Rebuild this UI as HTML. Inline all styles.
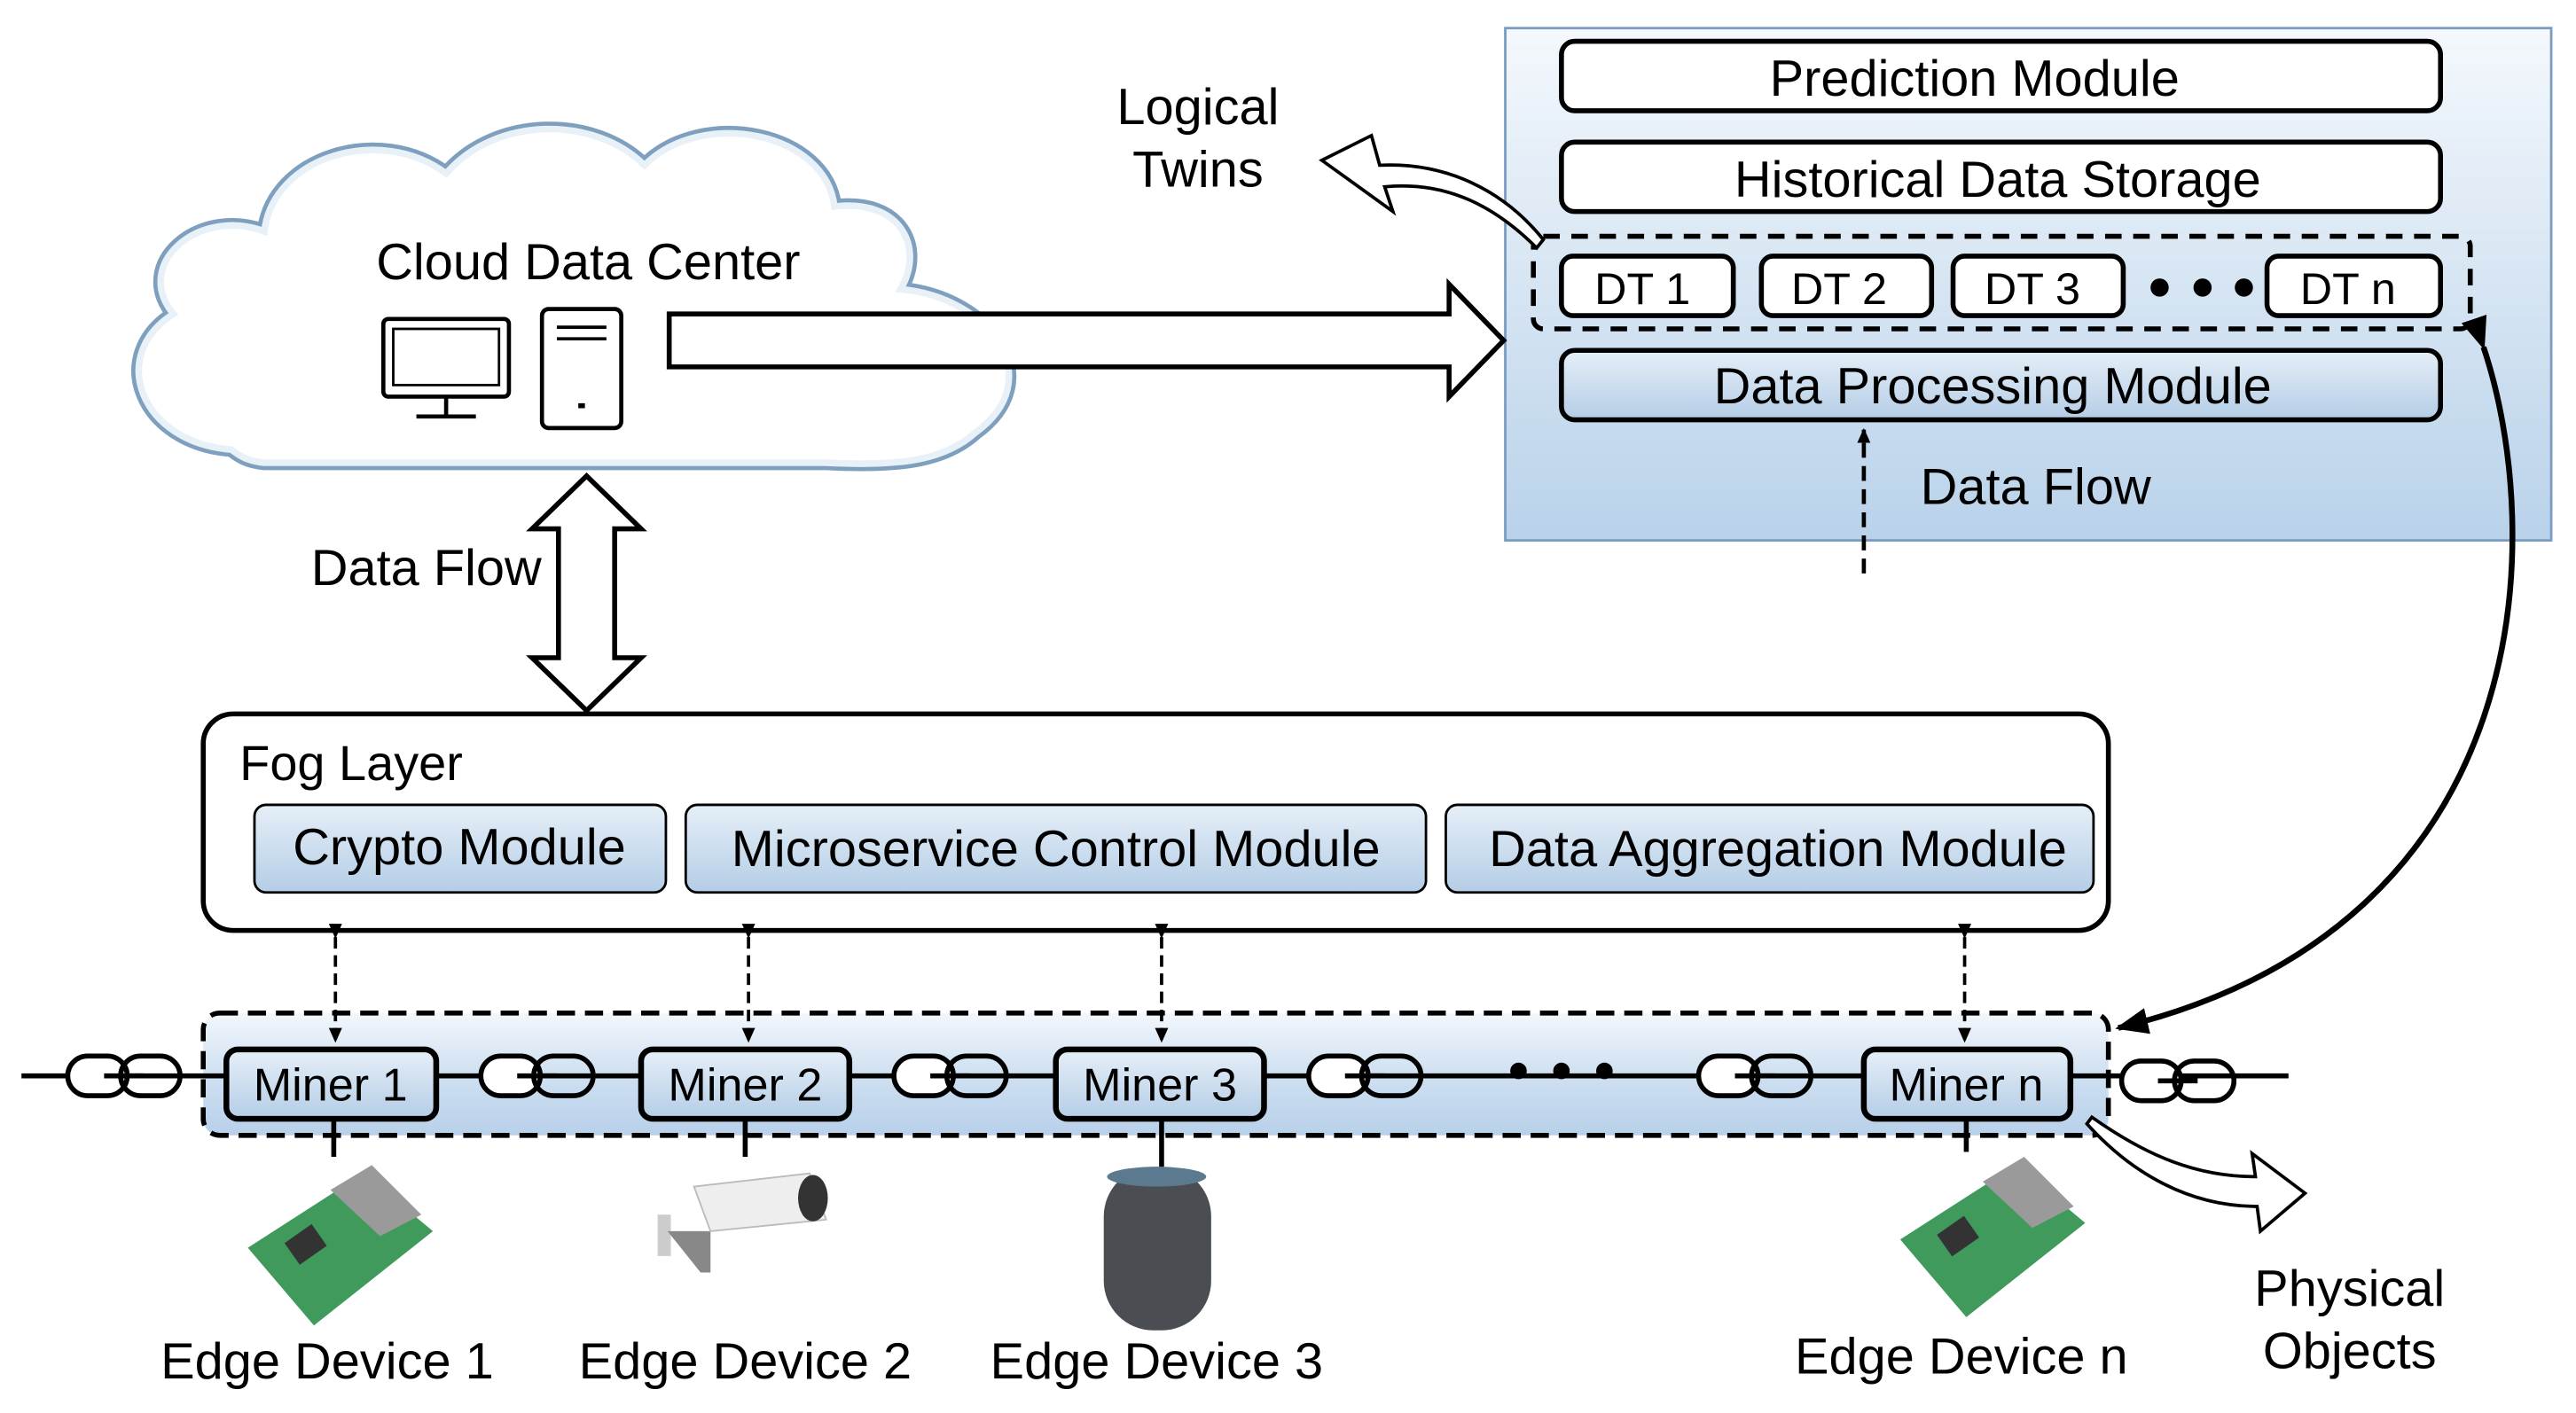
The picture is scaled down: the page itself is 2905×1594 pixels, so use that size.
<!DOCTYPE html>
<html><head><meta charset="utf-8"><style>html,body{margin:0;padding:0;background:#fff}svg{display:block}text{font-family:"Liberation Sans",Arial,sans-serif;fill:#000}</style></head>
<body>
<svg width="2905" height="1594" viewBox="0 0 1559 855" preserveAspectRatio="none" xmlns="http://www.w3.org/2000/svg">
<defs>
<linearGradient id="gp" x1="0" y1="0" x2="0" y2="1"><stop offset="0" stop-color="#f4f8fc"/><stop offset="1" stop-color="#b9d2ea"/></linearGradient>
<linearGradient id="gb" x1="0" y1="0" x2="0" y2="1"><stop offset="0" stop-color="#e6eff8"/><stop offset="1" stop-color="#b4cde6"/></linearGradient>
<linearGradient id="gc" x1="0" y1="0" x2="0" y2="1"><stop offset="0" stop-color="#f2f7fc"/><stop offset="0.5" stop-color="#cfe0f1"/><stop offset="1" stop-color="#b8d0ea"/></linearGradient>
<marker id="ah" markerWidth="10" markerHeight="10" refX="8" refY="5" orient="auto" markerUnits="userSpaceOnUse"><path d="M0,1 L9,5 L0,9 z" fill="#000"/></marker>
<marker id="ahb" markerWidth="22" markerHeight="22" refX="18" refY="11" orient="auto" markerUnits="userSpaceOnUse"><path d="M0,3 L20,11 L0,19 z" fill="#000"/></marker>
</defs>

<!-- Twin panel -->
<rect x="911" y="17" width="633" height="310" fill="url(#gp)" stroke="#7a9cc0" stroke-width="1.5"/>
<rect x="945" y="25" width="532" height="42" rx="8" fill="#fff" stroke="#000" stroke-width="3"/>
<text x="1195" y="58" font-size="31" text-anchor="middle">Prediction Module</text>
<rect x="945" y="86" width="532" height="42" rx="8" fill="#fff" stroke="#000" stroke-width="3"/>
<text x="1209" y="119" font-size="31" text-anchor="middle">Historical Data Storage</text>
<rect x="928" y="143" width="567" height="56" rx="6" fill="none" stroke="#000" stroke-width="3" stroke-dasharray="10,7"/>
<g stroke="#000" stroke-width="3" fill="#fff">
<rect x="945" y="155" width="104" height="36" rx="7"/>
<rect x="1066" y="155" width="103" height="36" rx="7"/>
<rect x="1182" y="155" width="103" height="36" rx="7"/>
<rect x="1372" y="155" width="105" height="36" rx="7"/>
</g>
<g font-size="27" text-anchor="middle">
<text x="994" y="184">DT 1</text><text x="1113" y="184">DT 2</text><text x="1230" y="184">DT 3</text><text x="1421" y="184">DT n</text>
</g>
<circle cx="1307" cy="174" r="5.5"/><circle cx="1333" cy="174" r="5.5"/><circle cx="1358" cy="174" r="5.5"/>
<rect x="945" y="212" width="532" height="42" rx="8" fill="url(#gb)" stroke="#000" stroke-width="3"/>
<text x="1206" y="244" font-size="31" text-anchor="middle">Data Processing Module</text>
<line x1="1128" y1="347" x2="1128" y2="260" stroke="#000" stroke-width="2.5" stroke-dasharray="9,5" marker-end="url(#ah)"/>
<text x="1232" y="305" font-size="31" text-anchor="middle">Data Flow</text>

<!-- Cloud -->
<path d="M140,272 C85,268 65,215 105,190 C80,160 120,125 160,140 C165,95 230,75 270,105 C300,70 360,70 390,100 C425,65 500,80 505,125 C545,120 560,150 545,175 C600,180 635,230 590,262 C570,280 540,282 500,280 L160,280 C150,279 145,276 140,272 Z" fill="#fff" stroke="#7f9fbf" stroke-width="9"/>
<path d="M140,272 C85,268 65,215 105,190 C80,160 120,125 160,140 C165,95 230,75 270,105 C300,70 360,70 390,100 C425,65 500,80 505,125 C545,120 560,150 545,175 C600,180 635,230 590,262 C570,280 540,282 500,280 L160,280 C150,279 145,276 140,272 Z" fill="#fff" stroke="#e8f0f8" stroke-width="4"/>
<text x="356" y="169" font-size="31" text-anchor="middle">Cloud Data Center</text>
<rect x="232" y="193" width="76" height="47" rx="3" fill="#fff" stroke="#000" stroke-width="2.5"/>
<rect x="238" y="199" width="64" height="34" fill="#fff" stroke="#000" stroke-width="1.5"/>
<line x1="270" y1="240" x2="270" y2="251" stroke="#000" stroke-width="2.5"/>
<line x1="252" y1="252" x2="288" y2="252" stroke="#000" stroke-width="2.5"/>
<rect x="328" y="187" width="48" height="72" rx="4" fill="#fff" stroke="#000" stroke-width="2.5"/>
<line x1="337" y1="198" x2="367" y2="198" stroke="#000" stroke-width="2"/>
<line x1="337" y1="205" x2="367" y2="205" stroke="#000" stroke-width="2"/>
<rect x="350" y="244" width="4" height="3" fill="#000"/>

<!-- big right arrow -->
<path d="M405,190 L877,190 L877,172 L910,206 L877,240 L877,222 L405,222 Z" fill="#fff" stroke="#000" stroke-width="3"/>

<!-- Logical twins -->
<text x="725" y="75" font-size="31" text-anchor="middle">Logical</text>
<text x="725" y="113" font-size="31" text-anchor="middle">Twins</text>
<path d="M930,150 C900,120 870,110 838,113 L843,128 L800,97 L830,82 L835,100 C875,98 910,115 934,145 Z" fill="#fff" stroke="#000" stroke-width="2"/>

<!-- vertical double arrow -->
<path d="M355,288 L388,320 L372,320 L372,398 L388,398 L355,430 L322,398 L338,398 L338,320 L322,320 Z" fill="#fff" stroke="#000" stroke-width="3"/>
<text x="258" y="354" font-size="31" text-anchor="middle">Data Flow</text>

<!-- Fog layer -->
<rect x="123" y="432" width="1153" height="131" rx="18" fill="#fff" stroke="#000" stroke-width="3"/>
<text x="145" y="472" font-size="30">Fog Layer</text>
<g stroke="#000" stroke-width="1.5" fill="url(#gb)">
<rect x="154" y="487" width="249" height="53" rx="7"/>
<rect x="415" y="487" width="448" height="53" rx="7"/>
<rect x="875" y="487" width="392" height="53" rx="7"/>
</g>
<text x="278" y="523" font-size="31" text-anchor="middle">Crypto Module</text>
<text x="639" y="524" font-size="31" text-anchor="middle">Microservice  Control Module</text>
<text x="1076" y="524" font-size="31" text-anchor="middle">Data Aggregation Module</text>

<!-- chain band -->
<rect x="123" y="613" width="1153" height="74" rx="10" fill="url(#gc)" stroke="#000" stroke-width="3" stroke-dasharray="11,6"/>
<g stroke="#000" stroke-width="2" stroke-dasharray="7,4">
<line x1="203" y1="567" x2="203" y2="630" marker-start="url(#ah)" marker-end="url(#ah)"/>
<line x1="453" y1="567" x2="453" y2="630" marker-start="url(#ah)" marker-end="url(#ah)"/>
<line x1="703" y1="567" x2="703" y2="630" marker-start="url(#ah)" marker-end="url(#ah)"/>
<line x1="1189" y1="567" x2="1189" y2="630" marker-start="url(#ah)" marker-end="url(#ah)"/>
</g>
<line x1="13" y1="651" x2="1385" y2="651" stroke="#000" stroke-width="3"/>
<g fill="none" stroke="#000" stroke-width="3">
<g transform="translate(75,651)"><rect x="-34" y="-12" width="36" height="24" rx="12" fill="#fff"/><rect x="-2" y="-12" width="36" height="24" rx="12"/><line x1="-12" y1="0" x2="12" y2="0"/></g>
<g transform="translate(325,651)"><rect x="-34" y="-12" width="36" height="24" rx="12" fill="#fff"/><rect x="-2" y="-12" width="36" height="24" rx="12"/><line x1="-12" y1="0" x2="12" y2="0"/></g>
<g transform="translate(575,651)"><rect x="-34" y="-12" width="36" height="24" rx="12" fill="#fff"/><rect x="-2" y="-12" width="36" height="24" rx="12"/><line x1="-12" y1="0" x2="12" y2="0"/></g>
<g transform="translate(826,651)"><rect x="-34" y="-12" width="36" height="24" rx="12" fill="#fff"/><rect x="-2" y="-12" width="36" height="24" rx="12"/><line x1="-12" y1="0" x2="12" y2="0"/></g>
<g transform="translate(1062,651)"><rect x="-34" y="-12" width="36" height="24" rx="12" fill="#fff"/><rect x="-2" y="-12" width="36" height="24" rx="12"/><line x1="-12" y1="0" x2="12" y2="0"/></g>
<g transform="translate(1318,654)"><rect x="-34" y="-12" width="36" height="24" rx="12" fill="#fff"/><rect x="-2" y="-12" width="36" height="24" rx="12"/><line x1="-12" y1="0" x2="12" y2="0"/></g>
</g>
<circle cx="919" cy="648" r="5"/><circle cx="945" cy="648" r="5"/><circle cx="971" cy="648" r="5"/>
<g stroke="#000" stroke-width="3">
<line x1="202" y1="677" x2="202" y2="700"/><line x1="451" y1="677" x2="451" y2="700"/><line x1="703" y1="677" x2="703" y2="706"/><line x1="1190" y1="677" x2="1190" y2="697"/>
</g>
<g fill="url(#gb)" stroke="#000" stroke-width="3.5">
<rect x="137" y="635" width="127" height="42" rx="7"/>
<rect x="388" y="635" width="126" height="42" rx="7"/>
<rect x="639" y="635" width="126" height="42" rx="7"/>
<rect x="1128" y="635" width="125" height="42" rx="7"/>
</g>
<g font-size="28" text-anchor="middle">
<text x="200" y="666">Miner 1</text><text x="451" y="666">Miner 2</text><text x="702" y="666">Miner 3</text><text x="1190" y="666">Miner n</text>
</g>

<!-- devices -->
<g>
<path d="M150,755 L220,710 L262,745 L190,802 Z" fill="#3f9a5b"/>
<path d="M200,720 L225,705 L255,735 L230,748 Z" fill="#9a9a9a"/>
<rect x="175" y="745" width="20" height="16" fill="#333" transform="rotate(-35 185 753)"/>
</g>
<g transform="translate(1000,-5)">
<path d="M150,755 L220,710 L262,745 L190,802 Z" fill="#3f9a5b"/>
<path d="M200,720 L225,705 L255,735 L230,748 Z" fill="#9a9a9a"/>
<rect x="175" y="745" width="20" height="16" fill="#333" transform="rotate(-35 185 753)"/>
</g>
<g>
<rect x="398" y="735" width="8" height="25" fill="#ccc"/>
<path d="M404,745 L430,745 L430,770 L424,770 Z" fill="#888"/>
<path d="M420,718 L490,710 L500,738 L430,745 Z" fill="#eee" stroke="#bbb"/>
<ellipse cx="492" cy="725" rx="9" ry="14" fill="#333"/>
</g>
<rect x="668" y="706" width="65" height="99" rx="30" fill="#4a4d52"/>
<ellipse cx="700" cy="712" rx="30" ry="6" fill="#5b7a90"/>

<g font-size="31" text-anchor="middle">
<text x="198" y="834">Edge Device  1</text>
<text x="451" y="834">Edge Device  2</text>
<text x="700" y="834">Edge Device  3</text>
<text x="1187" y="831">Edge Device  n</text>
<text x="1422" y="790">Physical</text>
<text x="1422" y="828">Objects</text>
</g>
<!-- physical objects arrow -->
<path d="M1266,676 C1300,700 1330,712 1365,712 L1363,698 L1395,722 L1368,745 L1366,730 C1325,730 1290,710 1263,680 Z" fill="#fff" stroke="#000" stroke-width="2"/>
<!-- curved double arrow -->
<path d="M1503,210 C1540,320 1540,560 1282,622" fill="none" stroke="#000" stroke-width="3.5" marker-start="url(#ahb)" marker-end="url(#ahb)"/>
</svg>
</body></html>
